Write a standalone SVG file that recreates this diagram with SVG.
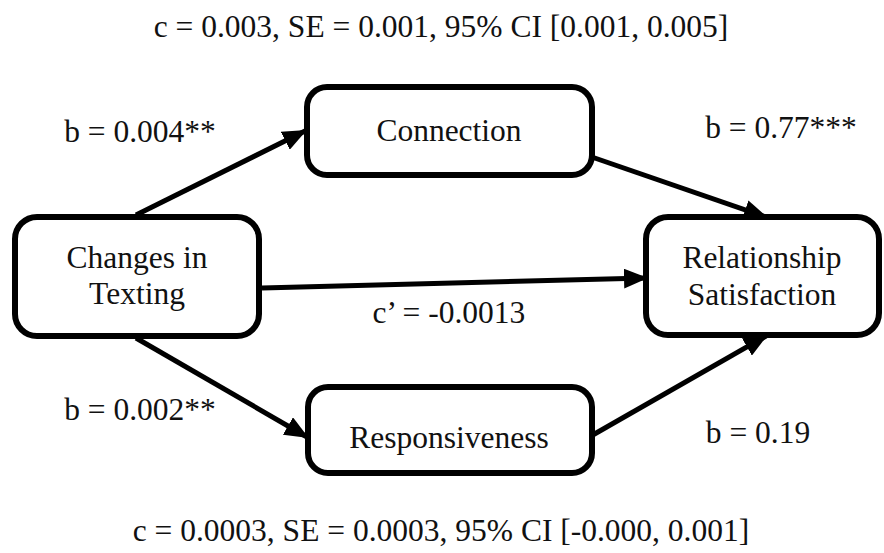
<svg xmlns="http://www.w3.org/2000/svg" width="884" height="553" viewBox="0 0 884 553">
<defs>
<marker id="ah" markerUnits="userSpaceOnUse" markerWidth="24" markerHeight="20" refX="22" refY="10" orient="auto">
<path d="M0,0 L24,10 L0,20 Z" fill="#000"/>
</marker>
<style>
.box{fill:#fff;stroke:#000;stroke-width:6}
.t{font-size:31.5px;fill:#111;text-anchor:middle}
.c{stroke:#000;stroke-width:5;fill:none;marker-end:url(#ah)}
</style>
</defs>
<rect width="884" height="553" fill="#fff"/>
<g font-family="'Liberation Serif', 'DejaVu Serif', serif">
<text class="t" x="441" y="37">c = 0.003, SE = 0.001, 95% CI [0.001, 0.005]</text>
<text class="t" x="441" y="541">c = 0.0003, SE = 0.0003, 95% CI [-0.000, 0.001]</text>
<g id="connectors">
<line class="c" x1="136" y1="215" x2="305" y2="131"/>
<line class="c" x1="586" y1="155" x2="766" y2="217"/>
<line class="c" x1="262" y1="288" x2="646" y2="278"/>
<line class="c" x1="136" y1="338" x2="307" y2="437"/>
<line class="c" x1="591" y1="436" x2="766" y2="336"/>
</g>
<g id="n-texting">
<rect class="box" x="15" y="217" width="244" height="119" rx="22"/>
<text class="t" x="137" y="268">Changes in</text>
<text class="t" x="137" y="304">Texting</text>
</g>
<g id="n-connection">
<rect class="box" x="307" y="87" width="285" height="88" rx="20"/>
<text class="t" x="449" y="141">Connection</text>
</g>
<g id="n-satisfaction">
<rect class="box" x="646" y="217" width="233" height="118" rx="22"/>
<text class="t" x="762" y="268">Relationship</text>
<text class="t" x="762" y="305">Satisfaction</text>
</g>
<g id="n-responsiveness">
<rect class="box" x="308" y="387" width="284" height="86" rx="20"/>
<text class="t" x="449" y="448">Responsiveness</text>
</g>
<g id="labels">
<text class="t" x="140" y="142">b = 0.004**</text>
<text class="t" x="781" y="138">b = 0.77***</text>
<text class="t" x="449" y="323">c’ = -0.0013</text>
<text class="t" x="140" y="420">b = 0.002**</text>
<text class="t" x="758" y="443">b = 0.19</text>
</g>
</g>
</svg>
